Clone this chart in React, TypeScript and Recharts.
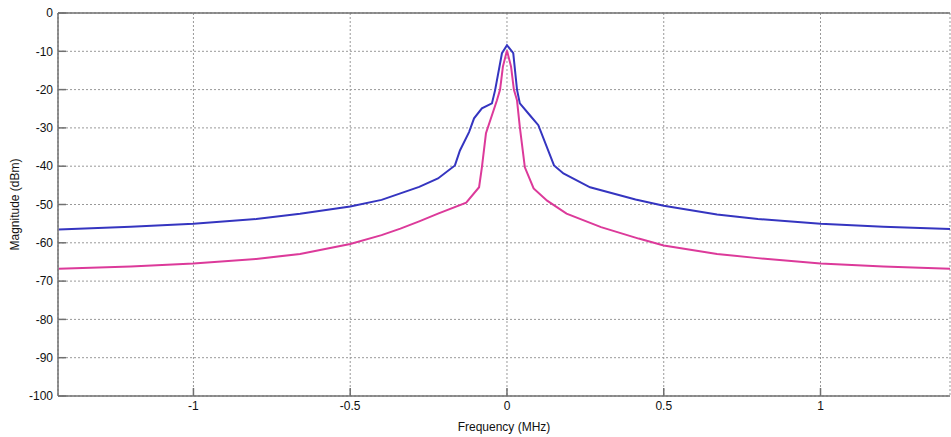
import { LineChart, Line, XAxis, YAxis, CartesianGrid } from 'recharts'

// Frequency (MHz) / magnitude (dBm)
const blueFreq = [-1.43, -1.2, -1.0, -0.8, -0.66, -0.5, -0.4, -0.34, -0.28, -0.22, -0.166, -0.15, -0.121, -0.105, -0.08, -0.048, -0.038, -0.016, 0, 0.02, 0.032, 0.041, 0.073, 0.1, 0.15, 0.18, 0.265, 0.41, 0.5, 0.67, 0.8, 1.0, 1.2, 1.413]
const blueMag = [-56.5, -55.8, -55.0, -53.8, -52.4, -50.5, -48.8, -47.1, -45.4, -43.2, -39.8, -35.9, -31.1, -27.5, -24.9, -23.6, -20.2, -10.5, -8.4, -10.5, -20, -23.6, -26.7, -29.3, -39.8, -41.9, -45.5, -48.7, -50.3, -52.6, -53.8, -55, -55.8, -56.4]

const pinkFreq = [-1.43, -1.2, -1.0, -0.8, -0.66, -0.5, -0.4, -0.34, -0.28, -0.22, -0.13, -0.089, -0.08, -0.067, -0.032, -0.022, -0.013, 0, 0.013, 0.022, 0.032, 0.041, 0.057, 0.085, 0.128, 0.19, 0.3, 0.42, 0.5, 0.67, 0.8, 1.0, 1.2, 1.413]
const pinkMag = [-66.8, -66.2, -65.4, -64.2, -62.9, -60.3, -58.0, -56.3, -54.4, -52.4, -49.5, -45.5, -40.3, -31.4, -22.8, -20, -14, -9.8, -14, -20, -22.8, -29.8, -40.3, -45.8, -49, -52.4, -55.9, -58.9, -60.7, -62.9, -64.0, -65.4, -66.2, -66.8]

const xTicks = [-1, -0.5, 0, 0.5, 1]
const yTicks = [0, -10, -20, -30, -40, -50, -60, -70, -80, -90, -100]

const blueData = blueFreq.map((f, i) => ({ f, v: blueMag[i] }))
const pinkData = pinkFreq.map((f, i) => ({ f, v: pinkMag[i] }))

const FONT = '"Liberation Sans", Arial, sans-serif'
const frame = '#707070'
const tickStyle = { fontSize: 12, fill: '#111', fontFamily: FONT }

export default function App() {
  return (
    <div style={{ position: 'absolute', left: 0, top: 0, width: 951, height: 437, background: '#fff', overflow: 'hidden' }}>
      <LineChart width={951} height={437} margin={{ top: 12, right: 0, bottom: 0, left: 0 }}>
        <CartesianGrid stroke="#999" strokeDasharray="2 2" strokeWidth={1} />
        <XAxis
          type="number"
          dataKey="f"
          domain={[-1.432, 1.413]}
          ticks={xTicks}
          allowDataOverflow
          height={41}
          tickSize={-8}
          tickMargin={13}
          tick={tickStyle}
          stroke={frame}
          strokeWidth={1.5}
          label={{ value: 'Frequency (MHz)', position: 'insideBottom', offset: 6, style: { fontSize: 12, fill: '#111', fontFamily: FONT } }}
        />
        <XAxis
          xAxisId="top"
          orientation="top"
          type="number"
          dataKey="f"
          domain={[-1.432, 1.413]}
          ticks={xTicks}
          allowDataOverflow
          height={1}
          tickSize={-8}
          tick={false}
          stroke={frame}
          strokeWidth={1.5}
        />
        <YAxis
          type="number"
          domain={[-100, 0]}
          ticks={yTicks}
          width={58}
          tickSize={-8}
          tickMargin={13}
          tick={tickStyle}
          stroke={frame}
          strokeWidth={1.5}
          label={{ value: 'Magnitude (dBm)', angle: -90, position: 'insideLeft', offset: 15, style: { fontSize: 12, fill: '#111', fontFamily: FONT, textAnchor: 'middle' } }}
        />
        <YAxis
          yAxisId="right"
          orientation="right"
          type="number"
          domain={[-100, 0]}
          ticks={yTicks}
          width={1}
          tickSize={-8}
          tick={false}
          axisLine={false}
          stroke={frame}
          strokeWidth={1.5}
        />
        <Line data={blueData} dataKey="v" type="linear" stroke="#3535c0" strokeWidth={2} dot={false} isAnimationActive={false} />
        <Line data={pinkData} dataKey="v" type="linear" stroke="#dc3a9a" strokeWidth={2} dot={false} isAnimationActive={false} />
      </LineChart>
    </div>
  )
}
